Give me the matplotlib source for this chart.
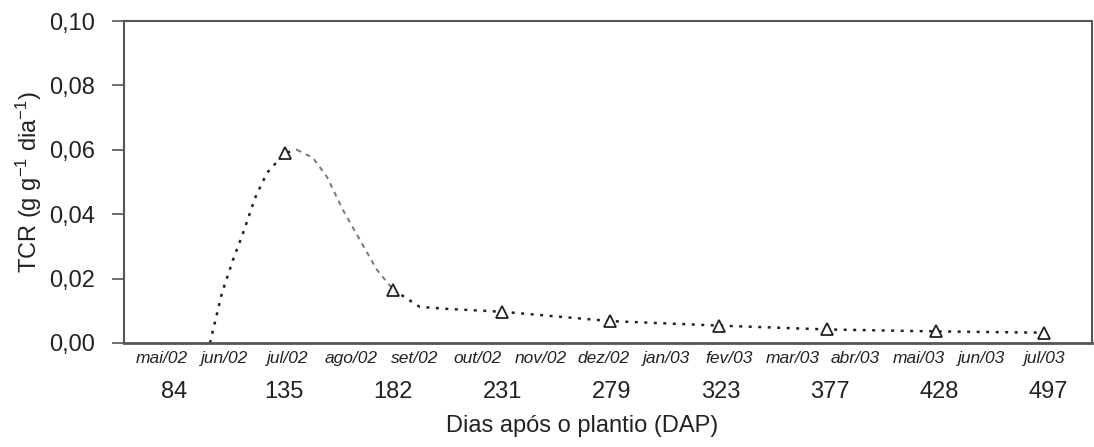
import numpy as np
import matplotlib
matplotlib.use("Agg")
import matplotlib.pyplot as plt
from matplotlib.transforms import blended_transform_factory

plt.rcParams['font.family'] = ['Liberation Sans', 'DejaVu Sans']
plt.rcParams['mathtext.fontset'] = 'custom'
plt.rcParams['mathtext.rm'] = 'Liberation Sans'
plt.rcParams['mathtext.it'] = 'Liberation Sans:italic'

# Data
dap_labels = ["84", "135", "182", "231", "279", "323", "377", "428", "497"]
month_labels = ["mai/02", "jun/02", "jul/02", "ago/02", "set/02", "out/02", "nov/02",
                "dez/02", "jan/03", "fev/03", "mar/03", "abr/03", "mai/03", "jun/03", "jul/03"]
obs_pos = [1, 2, 3, 4, 5, 6, 7, 8]
obs_tcr = [0.059, 0.0165, 0.0097, 0.0068, 0.0054, 0.0042, 0.0036, 0.0032]
curve_pos = [0.309, 0.419, 0.521, 0.613, 0.724, 0.834, 1.0, 1.111, 1.258, 1.387,
             1.535, 1.691, 1.848, 2.0, 2.244, 2.493, 3.0, 4.0, 5.0, 6.0, 7.0, 8.0]
curve_tcr = [0.0, 0.0155, 0.0258, 0.034, 0.045, 0.0528, 0.059, 0.060, 0.0575, 0.0516,
             0.0413, 0.032, 0.0227, 0.0165, 0.0112, 0.0106, 0.0097, 0.0068, 0.0054,
             0.0042, 0.0036, 0.0032]
yticks = [0.0, 0.02, 0.04, 0.06, 0.08, 0.10]

fig = plt.figure(figsize=(10.94, 4.47), dpi=100)
ax = fig.add_axes([0.1133, 0.2327, 0.8847, 0.7203])

# dark dotted rising part and tail, lighter dashed descending part
ax.plot(curve_pos[:8], curve_tcr[:8], color='#222222', lw=1.8,
        linestyle=(0, (1.2, 2.6)), zorder=2)
ax.plot(curve_pos[7:14], curve_tcr[7:14], color='#777777', lw=1.4,
        linestyle=(0, (2.5, 2.5)), zorder=2)
ax.plot(curve_pos[13:], curve_tcr[13:], color='#222222', lw=1.8,
        linestyle=(0, (1.2, 2.6)), zorder=2)
ax.plot(obs_pos, obs_tcr, linestyle='none', marker='^', markersize=9,
        markerfacecolor='white', markeredgecolor='#222222', markeredgewidth=1.3, zorder=3)

ax.set_xlim(-0.484, 8.438)
ax.set_ylim(0, 0.10)
ax.set_yticks(yticks)
ax.set_yticklabels([f"{v:.2f}".replace('.', ',') for v in yticks], fontsize=17, color='#222222')
ax.tick_params(axis='y', direction='out', length=9, width=1.2, color='#555555', pad=12)

month_pos = np.linspace(-0.134, 8.005, len(month_labels))
ax.set_xticks(month_pos)
ax.set_xticklabels(month_labels, fontsize=12.5, style='italic', color='#222222')
ax.tick_params(axis='x', length=0, pad=6)

trans = blended_transform_factory(ax.transData, ax.transAxes)
dap_pos = np.linspace(-0.02, 8.04, len(dap_labels))
for p, lab in zip(dap_pos, dap_labels):
    ax.text(p, -0.152, lab, transform=trans, ha='center', va='center', fontsize=17,
            color='#222222')

for s in ax.spines.values():
    s.set_color('#555555')
    s.set_linewidth(1.5)
ax.spines['bottom'].set_linewidth(2.0)

fig.text(0.026, 0.593, r'TCR (g g$^{-1}$ dia$^{-1}$)', rotation=90, ha='center',
         va='center', fontsize=17, color='#222222')
fig.text(0.532, 0.048, 'Dias após o plantio (DAP)', ha='center', va='center',
         fontsize=17, color='#222222')

fig.savefig('out.png', dpi=100, facecolor='white')
